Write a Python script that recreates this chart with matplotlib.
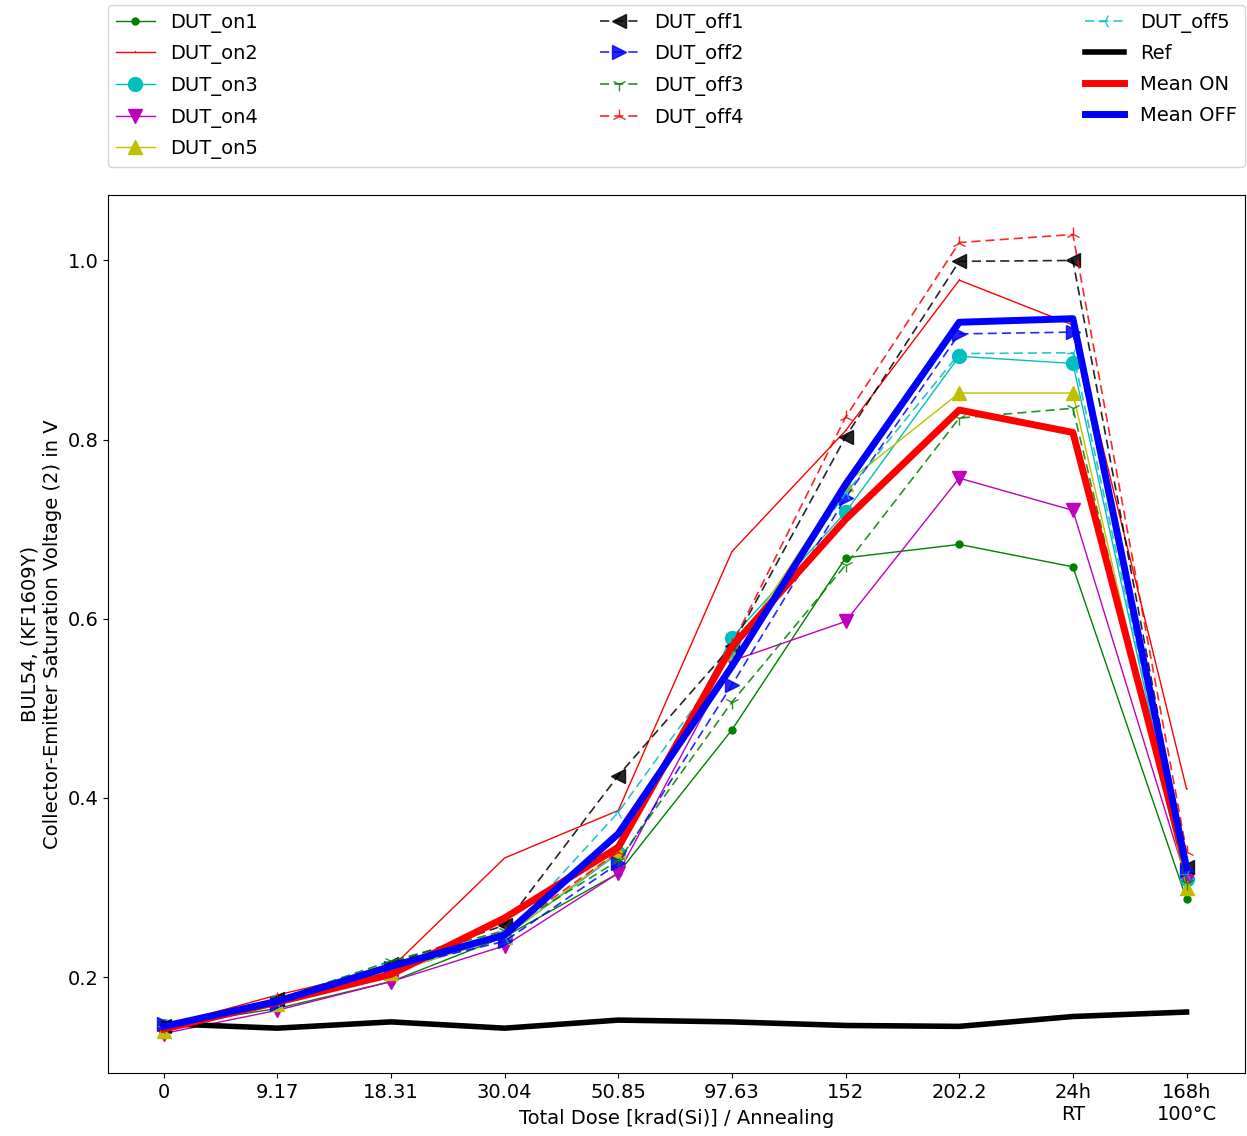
import matplotlib.pyplot as plt
import numpy as np

# x categories (dose steps then annealing)
tick_labels = ["0", "9.17", "18.31", "30.04", "50.85", "97.63", "152", "202.2",
               "24h\nRT", "168h\n100°C"]

dut_on1 = [0.145, 0.165, 0.195, 0.245, 0.316, 0.476, 0.668, 0.683, 0.658, 0.287]
dut_on2 = [0.145, 0.180, 0.210, 0.333, 0.386, 0.675, 0.810, 0.978, 0.928, 0.410]
dut_on3 = [0.145, 0.172, 0.205, 0.245, 0.338, 0.579, 0.719, 0.893, 0.885, 0.310]
dut_on4 = [0.137, 0.163, 0.195, 0.235, 0.316, 0.553, 0.597, 0.757, 0.721, 0.308]
dut_on5 = [0.140, 0.170, 0.205, 0.245, 0.340, 0.562, 0.751, 0.852, 0.852, 0.300]

dut_off1 = [0.145, 0.175, 0.215, 0.258, 0.425, 0.570, 0.803, 0.999, 1.000, 0.323]
dut_off2 = [0.148, 0.170, 0.210, 0.240, 0.327, 0.526, 0.735, 0.918, 0.920, 0.320]
dut_off3 = [0.145, 0.175, 0.218, 0.252, 0.330, 0.507, 0.660, 0.824, 0.835, 0.305]
dut_off4 = [0.145, 0.175, 0.210, 0.250, 0.340, 0.571, 0.825, 1.020, 1.029, 0.340]
dut_off5 = [0.145, 0.172, 0.210, 0.245, 0.384, 0.560, 0.740, 0.896, 0.897, 0.315]

ref = [0.148, 0.143, 0.150, 0.143, 0.152, 0.150, 0.146, 0.145, 0.156, 0.161]
mean_on = [0.142, 0.172, 0.203, 0.266, 0.345, 0.569, 0.711, 0.833, 0.808, 0.322]
mean_off = [0.145, 0.173, 0.212, 0.247, 0.360, 0.547, 0.750, 0.931, 0.935, 0.322]

on_series = [dut_on1, dut_on2, dut_on3, dut_on4, dut_on5]
off_series = [dut_off1, dut_off2, dut_off3, dut_off4, dut_off5]
on_labels = ["DUT_on1", "DUT_on2", "DUT_on3", "DUT_on4", "DUT_on5"]
off_labels = ["DUT_off1", "DUT_off2", "DUT_off3", "DUT_off4", "DUT_off5"]
on_styles = ["g.-", "r,-", "co-", "mv-", "y^-"]
off_markers = ["<", ">", "1", "2", "3"]
off_colors = ["k", "b", "g", "r", "c"]

plt.rcParams['font.size'] = 14

fig = plt.figure(figsize=(12.47, 11.36), dpi=100)
ax = fig.add_axes([0.0866, 0.0555, 0.9114, 0.7728])

x = np.arange(len(tick_labels))

for i in range(len(on_series)):
    ax.plot(x, on_series[i], on_styles[i], linewidth=1, markersize=10, label=on_labels[i])
for i in range(len(off_series)):
    ax.plot(x, off_series[i], marker=off_markers[i], color=off_colors[i],
            linestyle=(0, (5.5, 3)), linewidth=1.2, markersize=10, alpha=0.85,
            label=off_labels[i])

ax.plot(x, ref, 'k-', linewidth=4, label="Ref")
ax.plot(x, mean_on, 'r-', linewidth=5, label="Mean ON")
ax.plot(x, mean_off, 'b-', linewidth=5, label="Mean OFF")

ax.set_xticks(x)
ax.set_xticklabels(tick_labels)
ax.set_xlim(-0.49, 9.51)
ax.set_ylim(0.093, 1.073)
ax.set_yticks([0.2, 0.4, 0.6, 0.8, 1.0])

ax.set_xlabel("Total Dose [krad(Si)] / Annealing")
ax.xaxis.set_label_coords(0.5, -0.041)
ax.set_ylabel("BUL54, (KF1609Y)\nCollector-Emitter Saturation Voltage (2) in V")

ax.legend(bbox_to_anchor=(0, 1.032, 1, 0.2), loc='lower left', ncol=3,
          mode='expand', borderaxespad=0, fontsize=14, labelspacing=0.6)

fig.savefig("out.png", dpi=100)
